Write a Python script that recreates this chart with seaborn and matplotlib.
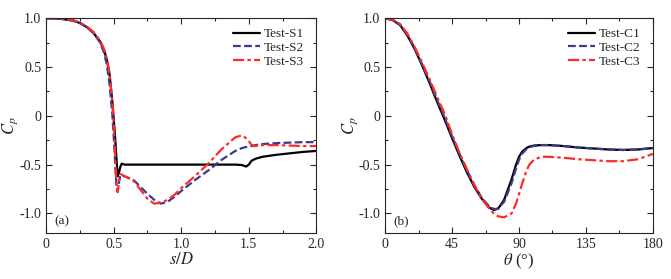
import matplotlib
matplotlib.use("Agg")
import matplotlib.pyplot as plt
import seaborn as sns
from matplotlib.ticker import MultipleLocator

# panel (a): Cp along s/D
s = [0, 0.1, 0.2, 0.25, 0.3, 0.35, 0.4, 0.43, 0.45, 0.47, 0.49, 0.5, 0.51, 0.52, 0.53,
     0.54, 0.55, 0.56, 0.58, 0.6, 0.65, 0.7, 0.75, 0.8, 0.85, 0.9, 0.95, 1.0, 1.1, 1.2,
     1.3, 1.4, 1.45, 1.48, 1.5, 1.52, 1.55, 1.6, 1.7, 1.8, 1.9, 2.0]
test_s1 = [1.0, 0.995, 0.975, 0.95, 0.91, 0.85, 0.76, 0.67, 0.57, 0.42, 0.15, -0.02, -0.2,
           -0.42, -0.62, -0.58, -0.52, -0.49, -0.5, -0.5, -0.5, -0.5, -0.5, -0.5, -0.5, -0.5,
           -0.5, -0.5, -0.5, -0.5, -0.5, -0.5, -0.505, -0.52, -0.5, -0.46, -0.44, -0.42, -0.4,
           -0.385, -0.37, -0.36]
test_s2 = [1.0, 0.995, 0.975, 0.95, 0.91, 0.85, 0.75, 0.64, 0.52, 0.32, 0.02, -0.2, -0.45,
           -0.7, -0.78, -0.68, -0.61, -0.61, -0.62, -0.63, -0.66, -0.73, -0.8, -0.86, -0.9,
           -0.88, -0.83, -0.77, -0.66, -0.56, -0.45, -0.36, -0.33, -0.32, -0.315, -0.31, -0.3,
           -0.29, -0.28, -0.275, -0.27, -0.27]
test_s3 = [1.0, 0.995, 0.98, 0.955, 0.915, 0.86, 0.77, 0.68, 0.58, 0.44, 0.15, -0.05, -0.35,
           -0.72, -0.78, -0.65, -0.6, -0.6, -0.62, -0.63, -0.67, -0.76, -0.85, -0.9, -0.89,
           -0.86, -0.81, -0.74, -0.62, -0.49, -0.34, -0.22, -0.2, -0.23, -0.26, -0.3, -0.31,
           -0.3, -0.3, -0.305, -0.31, -0.31]

# panel (b): Cp along theta
theta = [0, 5, 10, 15, 20, 25, 30, 35, 40, 45, 50, 55, 60, 65, 70, 73, 76, 80, 85, 88, 90,
         92, 95, 97, 100, 105, 110, 120, 130, 140, 150, 160, 170, 180]
test_c1 = [1.0, 0.98, 0.93, 0.82, 0.68, 0.51, 0.33, 0.14, -0.04, -0.23, -0.41, -0.58, -0.73,
           -0.85, -0.94, -0.965, -0.95, -0.86, -0.65, -0.5, -0.42, -0.37, -0.33, -0.315,
           -0.305, -0.3, -0.3, -0.31, -0.325, -0.335, -0.345, -0.35, -0.345, -0.33]
test_c2 = [1.0, 0.98, 0.93, 0.83, 0.69, 0.52, 0.35, 0.16, -0.02, -0.21, -0.39, -0.56, -0.71,
           -0.84, -0.93, -0.955, -0.95, -0.88, -0.69, -0.54, -0.45, -0.39, -0.34, -0.32,
           -0.31, -0.3, -0.3, -0.31, -0.325, -0.335, -0.345, -0.35, -0.345, -0.33]
test_c3 = [1.0, 0.985, 0.94, 0.84, 0.7, 0.54, 0.37, 0.19, 0.02, -0.19, -0.38, -0.55, -0.71,
           -0.85, -0.95, -1.0, -1.03, -1.04, -1.0, -0.9, -0.8, -0.7, -0.56, -0.5, -0.45,
           -0.42, -0.42, -0.43, -0.445, -0.455, -0.465, -0.465, -0.445, -0.39]

sns.set_theme(style="ticks")
plt.rcParams["font.family"] = ["Liberation Serif", "DejaVu Serif"]
plt.rcParams["mathtext.fontset"] = "stix"

black, blue, red = "black", "#3b3b8c", "#ff2a2a"
dashed = (0, (3.5, 1.5))
dashdot = (0, (5, 1.5, 1.5, 1.5))

fig = plt.figure(figsize=(6.71, 2.79), dpi=100)
ax1 = fig.add_axes([0.0686, 0.165, 0.403, 0.77])
ax2 = fig.add_axes([0.574, 0.165, 0.399, 0.77])

sns.lineplot(x=s, y=test_s1, ax=ax1, color=black, lw=1.6, label="Test-S1")
sns.lineplot(x=s, y=test_s2, ax=ax1, color=blue, lw=1.6, linestyle=dashed, label="Test-S2")
sns.lineplot(x=s, y=test_s3, ax=ax1, color=red, lw=1.6, linestyle=dashdot, label="Test-S3")

sns.lineplot(x=theta, y=test_c1, ax=ax2, color=black, lw=1.6, label="Test-C1")
sns.lineplot(x=theta, y=test_c2, ax=ax2, color=blue, lw=1.6, linestyle=dashed, label="Test-C2")
sns.lineplot(x=theta, y=test_c3, ax=ax2, color=red, lw=1.6, linestyle=dashdot, label="Test-C3")

for ax in (ax1, ax2):
    ax.set_ylim(-1.2, 1.0)
    ax.set_yticks([-1.0, -0.5, 0, 0.5, 1.0])
    ax.set_yticklabels(["-1.0", "-0.5", "0", "0.5", "1.0"])
    ax.yaxis.set_minor_locator(MultipleLocator(0.25))
    ax.tick_params(which="both", direction="in", top=True, right=True, labelsize=10, width=0.8)
    ax.tick_params(which="major", length=4)
    ax.tick_params(which="minor", length=2)
    for sp in ax.spines.values():
        sp.set_linewidth(0.8)
    ax.set_ylabel("$C_p$", fontsize=12)
    ax.yaxis.set_label_coords(-0.095, 0.5)
    ax.legend(loc="upper right", frameon=False, fontsize=9.5, handlelength=2.1,
              labelspacing=0.1, handletextpad=0.3, borderaxespad=0.2,
              bbox_to_anchor=(0.985, 0.99))

ax1.set_xlim(0, 2.0)
ax1.set_xticks([0, 0.5, 1.0, 1.5, 2.0])
ax1.set_xticklabels(["0", "0.5", "1.0", "1.5", "2.0"])
ax1.xaxis.set_minor_locator(MultipleLocator(0.25))
ax1.set_xlabel("$s/D$", fontsize=12, labelpad=1)
ax1.text(0.03, 0.04, "(a)", transform=ax1.transAxes, fontsize=9.5)

ax2.set_xlim(0, 180)
ax2.xaxis.set_major_locator(MultipleLocator(45))
ax2.xaxis.set_minor_locator(MultipleLocator(22.5))
ax2.set_xlabel(r"$\theta$ (°)", fontsize=12, labelpad=1)
ax2.text(0.03, 0.04, "(b)", transform=ax2.transAxes, fontsize=9.5)

fig.savefig("out.png", dpi=100)
